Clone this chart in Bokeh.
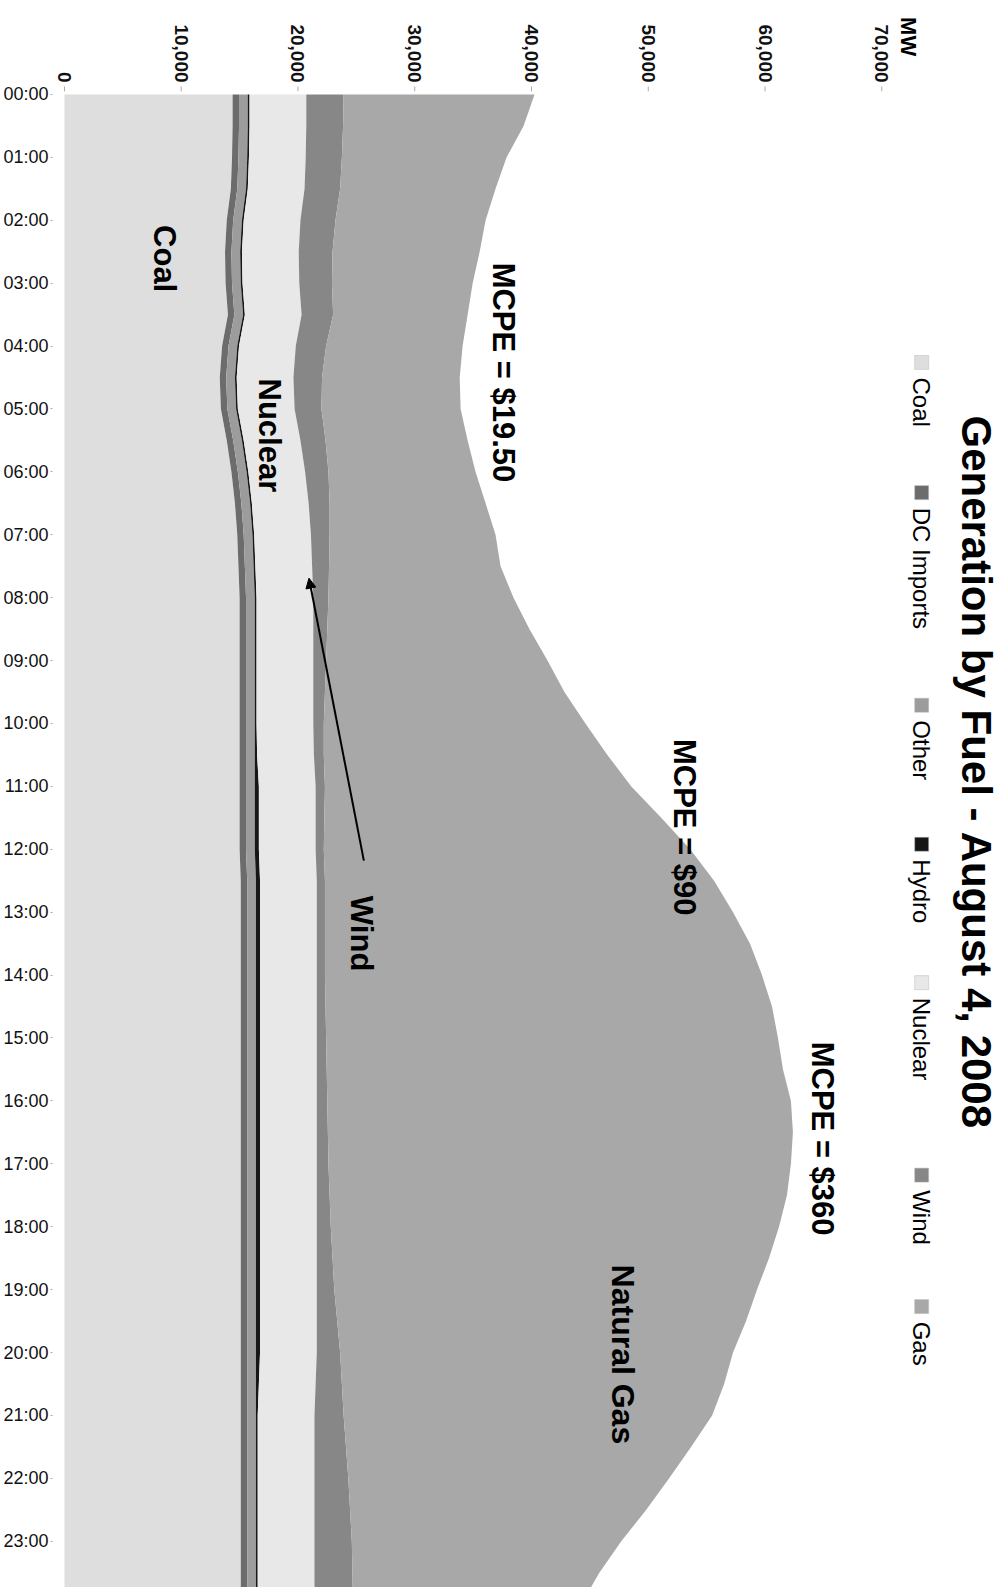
import math
from bokeh.plotting import figure
from bokeh.models import (Range1d, FixedTicker, Label, Arrow, NormalHead,
                          ColumnDataSource)
from bokeh.core.properties import value
from bokeh.embed import file_html
from bokeh.resources import INLINE

# ---------------- data (MW, half-hourly, 00:00 .. 24:00) ----------------
hours = [i / 2 for i in range(49)]
time_ticks = list(range(24))
time_labels = ["%02d:00" % h for h in time_ticks]
mw_ticks = [0, 10000, 20000, 30000, 40000, 50000, 60000, 70000]
mw_labels = ["0", "10,000", "20,000", "30,000", "40,000", "50,000", "60,000", "70,000"]

coal = [14400, 14400, 14350, 14250, 13900, 13750, 13800, 14000, 13500, 13300,
        13400, 13900, 14300, 14600, 14800, 14900, 15000, 15000, 15000, 15000,
        15000, 15000, 15000, 15000, 15000, 15100, 15100, 15100, 15100, 15100,
        15100, 15100, 15100, 15100, 15100, 15100, 15100, 15100, 15100, 15100,
        15100, 15100, 15100, 15100, 15100, 15100, 15100, 15100, 15100]
dc_imports = [550, 550, 550, 550, 550, 550, 550, 550, 550, 550,
              550, 550, 550, 550, 550, 550, 550, 550, 550, 550,
              550, 550, 550, 550, 550, 550, 550, 550, 550, 550,
              550, 550, 550, 550, 550, 550, 550, 550, 550, 550,
              550, 550, 550, 550, 550, 550, 550, 550, 550]
other = [750, 750, 750, 750, 750, 750, 750, 750, 750, 750,
         750, 750, 750, 750, 750, 750, 750, 750, 750, 750,
         750, 750, 750, 750, 750, 750, 750, 750, 750, 750,
         750, 750, 750, 750, 750, 750, 750, 750, 750, 750,
         750, 750, 750, 750, 750, 750, 750, 750, 750]
hydro = [150, 150, 150, 150, 150, 150, 150, 150, 150, 150,
         150, 150, 150, 150, 150, 150, 150, 150, 150, 150,
         150, 200, 350, 350, 350, 350, 350, 350, 350, 350,
         350, 350, 350, 350, 350, 350, 350, 350, 350, 350,
         350, 250, 150, 150, 150, 150, 150, 150, 150]
nuclear = [4860, 4860, 4860, 4860, 4860, 4860, 4860, 4860, 4860, 4860,
           4860, 4860, 4860, 4860, 4860, 4860, 4860, 4860, 4860, 4860,
           4860, 4860, 4860, 4860, 4860, 4860, 4860, 4860, 4860, 4860,
           4860, 4860, 4860, 4860, 4860, 4860, 4860, 4860, 4860, 4860,
           4860, 4860, 4860, 4860, 4860, 4860, 4860, 4860, 4860]
wind = [3200, 3150, 3100, 3050, 3000, 2900, 2800, 2700, 2600, 2450,
        2300, 2150, 2000, 1800, 1600, 1450, 1300, 1200, 1100, 1000,
        900, 850, 800, 750, 700, 700, 700, 700, 700, 750,
        800, 850, 900, 950, 1000, 1100, 1200, 1350, 1500, 1750,
        2000, 2250, 2500, 2700, 2900, 3050, 3200, 3250, 3300]
gas = [16350, 15460, 14100, 13310, 12860, 12600, 12050, 11520, 11690, 11790,
       11920, 12170, 12600, 13360, 14210, 14690, 15850, 17320, 18960, 20510,
       22410, 24290, 26240, 28850, 31380, 33330, 34950, 36410, 37430, 38240,
       38700, 39080, 39710, 39830, 39610, 39170, 38390, 37380, 36210, 35020,
       33650, 32740, 31560, 29570, 27480, 25370, 23080, 21150, 19560]

fuels = ["Coal", "DC Imports", "Other", "Hydro", "Nuclear", "Wind", "Gas"]
colors = ["#dedede", "#6c6c6c", "#9c9c9c", "#161616", "#e8e8e8", "#878787", "#a8a8a8"]

FONT = "Liberation Sans"
down = -math.pi / 2

source = ColumnDataSource(dict(hour=hours, coal=coal, dc=dc_imports, other=other,
                               hydro=hydro, nuclear=nuclear, wind=wind, gas=gas))

p = figure(width=1003, height=1587, output_backend="svg", toolbar_location=None,
           x_range=Range1d(-1026, 80427), y_range=Range1d(23.736, -1.494),
           x_axis_location=None, min_border_left=50, min_border_top=0,
           min_border_right=0, min_border_bottom=0)
p.outline_line_color = None
p.grid.grid_line_color = None
p.background_fill_color = "white"

p.harea_stack(["coal", "dc", "other", "hydro", "nuclear", "wind", "gas"],
              y="hour", color=colors, source=source)

# time axis (left)
ya = p.yaxis[0]
ya.ticker = FixedTicker(ticks=time_ticks)
ya.major_label_overrides = {t: lab for t, lab in zip(time_ticks, time_labels)}
ya.major_label_text_font = FONT
ya.major_label_text_font_size = "18px"
ya.major_label_text_color = "#111111"
ya.axis_line_color = None
ya.major_tick_line_color = "#aaaaaa"
ya.major_tick_out = 2
ya.major_tick_in = 0
ya.minor_tick_line_color = None
ya.major_label_standoff = 2

# MW axis (top, rotated labels)
mw_src = ColumnDataSource(dict(x=mw_ticks, label=mw_labels))
p.text(x="x", y=-0.19, text="label", source=mw_src, angle=down,
       text_align="right", text_baseline="middle", text_font=value(FONT),
       text_font_size="19px", text_font_style="bold", text_color="#111111")
p.segment(x0="x", y0=-0.127, x1="x", y1=-0.05, source=mw_src,
          line_color="#aaaaaa", line_width=1)


def add_label(x, y, text, size, bold=True, align="center"):
    p.add_layout(Label(x=x, y=y, text=text, angle=down, text_align=align,
                       text_baseline="middle", text_font=FONT,
                       text_font_size=size,
                       text_font_style="bold" if bold else "normal",
                       text_color="#000000"))


# axis unit label
add_label(72308, -0.92, "MW", "22px")

# in-chart annotations
add_label(8547, 2.61, "Coal", "31px")
add_label(17521, 5.42, "Nuclear", "31px")
add_label(25470, 13.34, "Wind", "31px")
add_label(37607, 4.42, "MCPE = $19.50", "31px")
add_label(53077, 11.65, "MCPE = $90", "31px")
add_label(64957, 16.60, "MCPE = $360", "31px")
add_label(47863, 20.03, "Natural Gas", "32px")

p.add_layout(Arrow(x_start=25641, y_start=12.18, x_end=20940, y_end=7.69,
                   line_width=2, line_color="black",
                   end=NormalHead(size=10, fill_color="black", line_color="black")))

# title
add_label(78120, 10.78, "Generation by Fuel - August 4, 2008", "42px")

# legend (rotated)
leg_x = 73419
leg_text_y = [4.50, 6.57, 9.95, 12.16, 14.36, 17.42, 19.51]
p.scatter(x=[leg_x] * 7, y=[v - 0.24 for v in leg_text_y], marker="square",
          size=14, color=colors, line_color="#bbbbbb", line_width=0.5)
for name, yy in zip(fuels, leg_text_y):
    add_label(leg_x, yy, name, "24px", bold=False, align="left")

open("out.html", "w").write(file_html(p, INLINE))
